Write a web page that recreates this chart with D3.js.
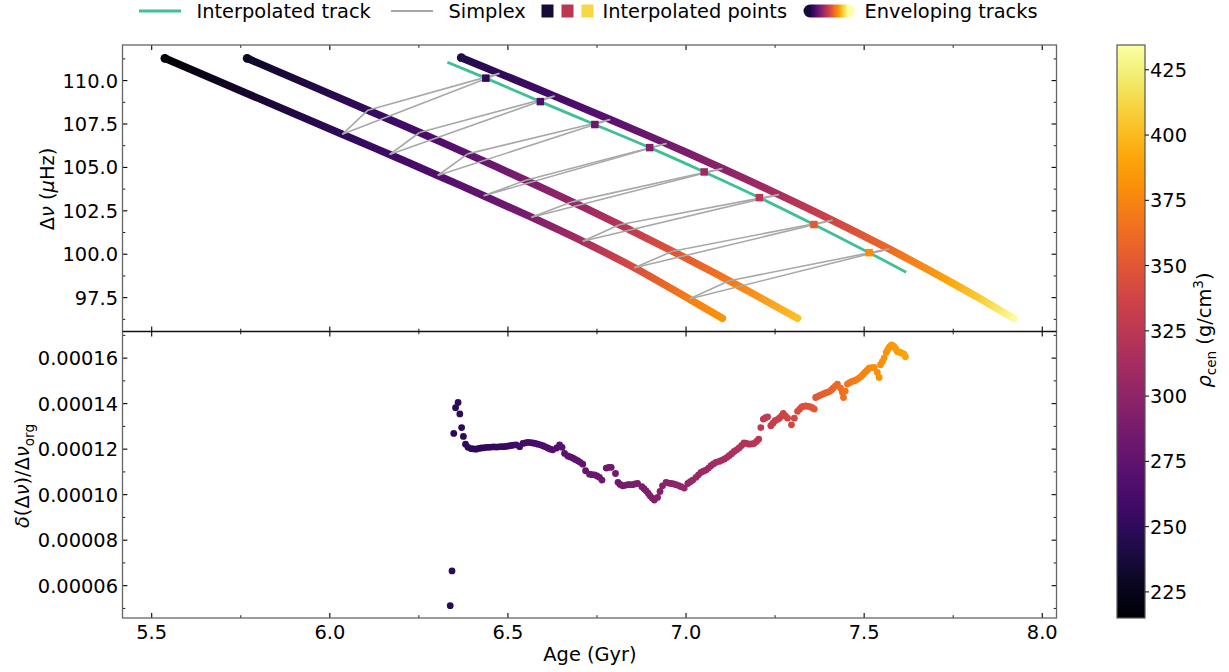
<!DOCTYPE html>
<html><head><meta charset="utf-8">
<script src="https://cdn.jsdelivr.net/npm/d3@7"></script>
<style>
body{margin:0;background:#fff;}
text{font-family:"DejaVu Sans",sans-serif;fill:#000;}
</style></head>
<body><svg id="c" width="1229" height="672"></svg>
<script>
// ---------------- DATA ----------------
// Enveloping track 1
const track1Age = [5.537, 6.035, 6.168, 6.303, 6.432, 6.566, 6.710, 6.855, 7.009, 7.102];
const track1Dnu = [111.284, 106.907, 105.744, 104.535, 103.371, 102.133, 100.745, 99.219, 97.422, 96.311];
const track1Rho = [216, 250, 258, 267, 276, 290, 313, 343, 372, 383];
// Enveloping track 2
const track2Age = [5.768, 6.107, 6.252, 6.387, 6.550, 6.680, 6.813, 6.962, 7.121, 7.313];
const track2Dnu = [111.284, 108.295, 107.011, 105.779, 104.261, 103.017, 101.703, 100.171, 98.470, 96.311];
const track2Rho = [230, 252, 262, 274, 291, 304, 322, 348, 370, 402];
// Enveloping track 3
const track3Age = [6.369, 6.476, 6.631, 6.787, 6.945, 7.102, 7.261, 7.411, 7.570, 7.738, 7.830, 7.920];
const track3Dnu = [111.319, 110.415, 109.107, 107.760, 106.372, 104.938, 103.435, 101.955, 100.307, 98.453, 97.388, 96.311];
const track3Rho = [243, 250, 261, 272, 285, 298, 315, 337, 361, 391, 409, 432];
// Interpolated track
const interpTrackAge = [6.330, 6.438, 6.591, 6.744, 6.898, 7.051, 7.206, 7.359, 7.514, 7.618];
const interpTrackDnu = [111.06, 110.14, 108.79, 107.47, 106.14, 104.74, 103.26, 101.71, 100.09, 98.96];
// Interpolated points
const pointAge = [6.438, 6.591, 6.744, 6.898, 7.051, 7.206, 7.359, 7.514];
const pointDnu = [110.14, 108.79, 107.47, 106.14, 104.74, 103.26, 101.71, 100.09];
const pointRho = [250, 265, 282, 293, 309, 324, 352, 380];
// Simplex vertices (one on each enveloping track)
const simplexAgeA = [6.035, 6.168, 6.303, 6.432, 6.566, 6.710, 6.855, 7.009];
const simplexDnuA = [106.907, 105.744, 104.535, 103.371, 102.133, 100.745, 99.219, 97.422];
const simplexAgeB = [6.107, 6.252, 6.387, 6.550, 6.680, 6.813, 6.962, 7.121];
const simplexDnuB = [108.295, 107.011, 105.779, 104.261, 103.017, 101.703, 100.171, 98.470];
const simplexAgeC = [6.476, 6.631, 6.787, 6.945, 7.102, 7.261, 7.411, 7.570];
const simplexDnuC = [110.415, 109.107, 107.760, 106.372, 104.938, 103.435, 101.955, 100.307];
// Lower panel: relative difference (units of 1e-5)
const diffAge = [6.338,6.343,6.348,6.353,6.360,6.365,6.370,6.375,6.381,6.388,6.397,6.404,6.411,6.418,6.425,6.432,6.439,6.446,6.453,6.460,6.467,6.474,6.481,6.488,6.495,6.502,6.509,6.516,6.523,
6.533,6.542,6.549,6.556,6.563,6.570,6.577,6.584,6.591,6.598,6.605,6.612,6.619,6.626,6.637,6.645,6.652,6.659,6.668,6.675,6.682,6.689,6.696,6.703,6.710,6.718,6.729,6.736,6.743,6.750,6.757,
6.764,6.776,6.783,6.790,6.802,6.809,6.815,6.822,6.829,6.836,6.843,6.850,6.857,6.864,6.876,6.882,6.888,6.894,6.899,6.905,6.911,6.920,6.927,6.934,6.944,6.951,6.958,6.965,6.972,6.979,6.986,
6.995,7.005,7.012,7.019,7.028,7.035,7.042,7.049,7.056,7.063,7.070,7.077,7.084,7.093,7.100,7.107,7.114,7.121,7.128,7.135,7.142,7.149,7.156,7.163,7.170,7.177,7.184,7.191,7.198,7.204,7.210,7.217,7.223,7.229,
7.238,7.244,7.250,7.256,7.262,7.268,7.273,7.279,7.285,7.296,7.304,7.313,7.319,7.325,7.330,7.336,7.343,7.350,7.355,7.360,7.364,7.369,7.374,7.381,7.388,7.395,7.402,7.408,7.413,7.419,7.425,7.434,7.439,
7.442,7.447,7.453,7.459,7.465,7.471,7.476,7.483,7.490,7.496,7.502,7.508,7.514,7.521,7.528,7.537,7.542,7.546,7.551,7.556,7.562,7.566,7.570,7.574,7.577,7.581,7.584,7.589,7.593,7.598,7.602,7.607,7.612,7.616];
const diffRel = [5.12,6.65,12.69,13.82,14.05,13.55,12.95,12.56,12.22,12.08,12.02,12.01,12.00,12.03,12.05,12.06,12.08,12.08,12.09,12.10,12.09,12.10,12.11,12.11,12.12,12.14,12.16,12.18,12.19,
12.11,12.25,12.28,12.30,12.29,12.27,12.25,12.22,12.19,12.15,12.10,12.05,12.00,11.97,12.05,12.19,12.08,11.81,11.70,11.66,11.61,11.55,11.49,11.42,11.34,11.05,10.90,10.88,10.87,10.82,10.76,
10.64,11.17,11.20,11.20,10.93,10.54,10.45,10.39,10.41,10.44,10.44,10.44,10.47,10.49,10.35,10.26,10.17,10.06,9.95,9.85,9.76,9.88,10.14,10.39,10.54,10.51,10.49,10.47,10.44,10.40,10.35,
10.29,10.49,10.57,10.64,10.76,10.87,10.98,11.03,11.08,11.17,11.27,11.35,11.42,11.46,11.51,11.56,11.63,11.71,11.80,11.90,11.97,12.05,12.16,12.27,12.25,12.22,12.23,12.25,12.34,12.44,12.95,13.32,13.38,13.42,
13.03,13.14,13.25,13.30,13.36,13.46,13.57,13.46,13.36,13.07,13.36,13.66,13.76,13.86,13.88,13.90,13.88,13.86,13.81,13.76,14.27,14.31,14.35,14.40,14.45,14.49,14.53,14.60,14.68,14.77,14.86,14.68,14.49,
14.27,14.55,14.86,14.92,14.97,15.00,15.03,15.10,15.18,15.27,15.37,15.46,15.56,15.58,15.59,15.37,15.15,15.71,15.85,16.00,16.25,16.36,16.47,16.53,16.58,16.54,16.50,16.40,16.29,16.27,16.25,16.21,16.17,16.06];
const diffRho = [248,248,248,248,249,249,249,249,249,249,250,250,250,250,250,250,251,251,252,252,253,254,255,255,256,256,257,257,258,
259,260,260,261,261,262,262,263,264,265,265,266,267,268,269,270,271,271,272,273,274,274,275,276,277,278,279,279,280,280,281,
282,283,283,284,285,286,286,287,287,288,288,289,289,290,291,291,292,292,293,293,294,295,295,296,297,298,299,299,300,301,302,
303,304,304,305,306,306,307,308,309,309,310,311,312,313,313,314,315,316,316,317,318,319,319,320,321,322,322,323,324,325,326,327,328,329,
330,331,332,333,334,335,336,337,338,340,341,343,344,345,345,346,347,348,349,350,351,351,352,353,355,356,357,358,359,360,361,363,364,
365,366,367,368,369,370,371,372,373,374,375,376,377,378,379,380,381,381,381,382,383,383,384,384,385,385,386,386,387,387,388,388,389,390];
// Ticks
const xTicks = [5.5, 6.0, 6.5, 7.0, 7.5, 8.0];
const xTickLabels = ["5.5", "6.0", "6.5", "7.0", "7.5", "8.0"];
const xMinor = [5.75, 6.25, 6.75, 7.25, 7.75];
const topYTicks = [97.5, 100, 102.5, 105, 107.5, 110];
const topYTickLabels = ["97.5", "100.0", "102.5", "105.0", "107.5", "110.0"];
const topYMinor = [96.25, 98.75, 101.25, 103.75, 106.25, 108.75, 111.25];
const botYTicks = [6, 8, 10, 12, 14, 16];
const botYTickLabels = ["0.00006", "0.00008", "0.00010", "0.00012", "0.00014", "0.00016"];
const botYMinor = [5, 7, 9, 11, 13, 15, 17];
const cbarTicks = [225, 250, 275, 300, 325, 350, 375, 400, 425];
const cbarTickLabels = ["225", "250", "275", "300", "325", "350", "375", "400", "425"];
const legendLabels = ["Interpolated track", "Simplex", "Interpolated points", "Enveloping tracks"];

// ---------------- LAYOUT ----------------
const L = 122.5, R = 1056.5, T1 = 45, B1 = 331.5, T2 = 331.5, B2 = 618;
const CB = {x0: 1117, x1: 1145, y0: 45, y1: 618};
const FS = 19.4;
const GREEN = "#3fbf97", GRAY = "#a8a8a8", SPINE = "#666";

const x = d3.scaleLinear().domain([5.418, 8.04]).range([L, R]);
const yTop = d3.scaleLinear().domain([95.55, 112.05]).range([B1, T1]);
const yBot = d3.scaleLinear().domain([4.58, 17.17]).range([B2, T2]);
const color = d3.scaleSequential(d3.interpolateInferno).domain([215, 434.5]);
const yCb = d3.scaleLinear().domain([215, 434.5]).range([CB.y1, CB.y0]);

const svg = d3.select("#c");
const defs = svg.append("defs");
defs.append("clipPath").attr("id", "clipTop").append("rect").attr("x", L).attr("y", T1).attr("width", R - L).attr("height", B1 - T1);
defs.append("clipPath").attr("id", "clipBot").append("rect").attr("x", L).attr("y", T2).attr("width", R - L).attr("height", B2 - T2);

const gTop = svg.append("g").attr("clip-path", "url(#clipTop)");
const gBot = svg.append("g").attr("clip-path", "url(#clipBot)");
const smooth = d3.line().curve(d3.curveCatmullRom.alpha(0.5));

// ---- enveloping tracks
function addTrack(ages, dnus, rhos, id) {
  const pts = ages.map((a, i) => [x(a), yTop(dnus[i])]);
  const p0 = pts[0], p1 = pts[pts.length - 1];
  const dx = p1[0] - p0[0], dy = p1[1] - p0[1], len2 = dx * dx + dy * dy;
  const g = defs.append("linearGradient").attr("id", id).attr("gradientUnits", "userSpaceOnUse")
    .attr("x1", p0[0]).attr("y1", p0[1]).attr("x2", p1[0]).attr("y2", p1[1]);
  pts.forEach((p, i) => {
    const t = ((p[0] - p0[0]) * dx + (p[1] - p0[1]) * dy) / len2;
    g.append("stop").attr("offset", Math.max(0, Math.min(1, t))).attr("stop-color", color(rhos[i]));
  });
  gTop.append("path").attr("d", smooth(pts))
    .attr("fill", "none").attr("stroke", `url(#${id})`).attr("stroke-width", 7.5)
    .attr("stroke-linecap", "round");
  gTop.append("circle").attr("cx", p0[0]).attr("cy", p0[1]).attr("r", 4.4).attr("fill", color(rhos[0]));
}
addTrack(track1Age, track1Dnu, track1Rho, "g1");
addTrack(track2Age, track2Dnu, track2Rho, "g2");
addTrack(track3Age, track3Dnu, track3Rho, "g3");

// ---- interpolated track
gTop.append("path")
  .attr("d", smooth(interpTrackAge.map((a, i) => [x(a), yTop(interpTrackDnu[i])])))
  .attr("fill", "none").attr("stroke", GREEN).attr("stroke-width", 2.8);

// ---- simplexes
pointAge.forEach((_, i) => {
  const A = [x(simplexAgeA[i]), yTop(simplexDnuA[i])];
  const B = [x(simplexAgeB[i]), yTop(simplexDnuB[i])];
  const C = [x(simplexAgeC[i]), yTop(simplexDnuC[i])];
  [[A, B], [B, C], [A, C]].forEach(([p, q]) => {
    gTop.append("line").attr("x1", p[0]).attr("y1", p[1]).attr("x2", q[0]).attr("y2", q[1])
      .attr("stroke", GRAY).attr("stroke-width", 1.6);
  });
});

// ---- interpolated points
const sq = 7.5;
gTop.selectAll("rect.pt").data(pointAge).enter().append("rect")
  .attr("x", (d) => x(d) - sq / 2).attr("y", (d, i) => yTop(pointDnu[i]) - sq / 2)
  .attr("width", sq).attr("height", sq).attr("fill", (d, i) => color(pointRho[i]));

// ---- lower panel scatter
gBot.selectAll("circle").data(diffAge).enter().append("circle")
  .attr("cx", (d) => x(d)).attr("cy", (d, i) => yBot(diffRel[i])).attr("r", 3.4)
  .attr("fill", (d, i) => color(diffRho[i]));

// ---------------- AXES ----------------
const ax = svg.append("g");
function tickLine(x1, y1, x2, y2, w) {
  ax.append("line").attr("x1", x1).attr("y1", y1).attr("x2", x2).attr("y2", y2)
    .attr("stroke", "#000").attr("stroke-width", w);
}
const MAJ = 4.9, MIN = 2.8;
function panelTicks(yScale, yT, yB, yMaj, yMin) {
  xTicks.forEach(v => { tickLine(x(v), yB, x(v), yB - MAJ, 1.1); tickLine(x(v), yT, x(v), yT + MAJ, 1.1); });
  xMinor.forEach(v => { tickLine(x(v), yB, x(v), yB - MIN, 0.9); tickLine(x(v), yT, x(v), yT + MIN, 0.9); });
  yMaj.forEach(v => { tickLine(L, yScale(v), L + MAJ, yScale(v), 1.1); tickLine(R, yScale(v), R - MAJ, yScale(v), 1.1); });
  yMin.forEach(v => { tickLine(L, yScale(v), L + MIN, yScale(v), 0.9); tickLine(R, yScale(v), R - MIN, yScale(v), 0.9); });
}
panelTicks(yTop, T1, B1, topYTicks, topYMinor);
panelTicks(yBot, T2, B2, botYTicks, botYMinor);

// spines
ax.append("rect").attr("x", L).attr("y", T1).attr("width", R - L).attr("height", B2 - T1)
  .attr("fill", "none").attr("stroke", SPINE).attr("stroke-width", 1.3);
ax.append("line").attr("x1", L).attr("x2", R).attr("y1", B1).attr("y2", B1).attr("stroke", "#111").attr("stroke-width", 1.4);

// tick labels
topYTicks.forEach((v, i) => ax.append("text").attr("x", 118).attr("y", yTop(v)).attr("dy", "0.36em")
  .attr("text-anchor", "end").style("font-size", FS + "px").text(topYTickLabels[i]));
botYTicks.forEach((v, i) => ax.append("text").attr("x", 118).attr("y", yBot(v)).attr("dy", "0.36em")
  .attr("text-anchor", "end").style("font-size", FS + "px").text(botYTickLabels[i]));
xTicks.forEach((v, i) => ax.append("text").attr("x", x(v)).attr("y", 638.5)
  .attr("text-anchor", "middle").style("font-size", FS + "px").text(xTickLabels[i]));

// axis labels
const lab1 = ax.append("text").attr("transform", "translate(54,189) rotate(-90)")
  .attr("text-anchor", "middle").style("font-size", FS + "px");
lab1.append("tspan").text("Δ");
lab1.append("tspan").style("font-style", "italic").text("ν");
lab1.append("tspan").text(" (");
lab1.append("tspan").style("font-style", "italic").text("μ");
lab1.append("tspan").text("Hz)");

const lab2 = ax.append("text").attr("transform", "translate(29,476) rotate(-90)")
  .attr("text-anchor", "middle").style("font-size", FS + "px");
lab2.append("tspan").style("font-style", "italic").text("δ");
lab2.append("tspan").text("(Δ");
lab2.append("tspan").style("font-style", "italic").text("ν");
lab2.append("tspan").text(")/Δ");
lab2.append("tspan").style("font-style", "italic").text("ν");
lab2.append("tspan").attr("dy", 4.5).style("font-size", (FS * 0.7) + "px").text("org");

ax.append("text").attr("x", 590).attr("y", 661).attr("text-anchor", "middle")
  .style("font-size", FS + "px").text("Age (Gyr)");

// ---------------- COLORBAR ----------------
const cg = defs.append("linearGradient").attr("id", "cbar").attr("x1", 0).attr("y1", 1).attr("x2", 0).attr("y2", 0);
d3.range(0, 1.0001, 0.05).forEach(t => cg.append("stop").attr("offset", t).attr("stop-color", d3.interpolateInferno(t)));
svg.append("rect").attr("x", CB.x0).attr("y", CB.y0).attr("width", CB.x1 - CB.x0).attr("height", CB.y1 - CB.y0)
  .attr("fill", "url(#cbar)").attr("stroke", "#555").attr("stroke-width", 1.2);
cbarTicks.forEach((v, i) => {
  svg.append("line").attr("x1", CB.x1).attr("x2", CB.x1 + 4).attr("y1", yCb(v)).attr("y2", yCb(v))
    .attr("stroke", "#000").attr("stroke-width", 1);
  svg.append("text").attr("x", 1150).attr("y", yCb(v)).attr("dy", "0.36em")
    .style("font-size", FS + "px").text(cbarTickLabels[i]);
});
const lab3 = svg.append("text").attr("transform", "translate(1211,330) rotate(-90)")
  .attr("text-anchor", "middle").style("font-size", FS + "px");
lab3.append("tspan").style("font-style", "italic").text("ρ");
lab3.append("tspan").attr("dy", 4.5).style("font-size", (FS * 0.7) + "px").text("cen");
lab3.append("tspan").attr("dy", -4.5).text(" (g/cm");
lab3.append("tspan").attr("dy", -8).style("font-size", (FS * 0.7) + "px").text("3");
lab3.append("tspan").attr("dy", 8).text(")");

// ---------------- LEGEND ----------------
const lg = svg.append("g");
const ly = 11;
lg.append("line").attr("x1", 139).attr("x2", 181).attr("y1", ly).attr("y2", ly).attr("stroke", GREEN).attr("stroke-width", 3);
lg.append("text").attr("x", 196.5).attr("y", ly + 7).style("font-size", FS + "px").text(legendLabels[0]);
lg.append("line").attr("x1", 391).attr("x2", 433).attr("y1", ly).attr("y2", ly).attr("stroke", GRAY).attr("stroke-width", 1.8);
lg.append("text").attr("x", 448.5).attr("y", ly + 7).style("font-size", FS + "px").text(legendLabels[1]);
[0.1, 0.5, 0.9].forEach((t, i) => lg.append("rect").attr("x", 541.5 + i * 20).attr("y", ly - 6.5)
  .attr("width", 12).attr("height", 13).attr("fill", d3.interpolateInferno(t)));
lg.append("text").attr("x", 602.5).attr("y", ly + 7).style("font-size", FS + "px").text(legendLabels[2]);
const pg = defs.append("linearGradient").attr("id", "pill").attr("gradientUnits", "userSpaceOnUse")
  .attr("x1", 810).attr("x2", 848).attr("y1", 0).attr("y2", 0);
d3.range(0.1, 1.0001, 0.05).forEach(t => pg.append("stop").attr("offset", (t - 0.1) / 0.9).attr("stop-color", d3.interpolateInferno(t)));
lg.append("line").attr("x1", 810).attr("x2", 848).attr("y1", ly).attr("y2", ly)
  .attr("stroke", "url(#pill)").attr("stroke-width", 13).attr("stroke-linecap", "round");
lg.append("text").attr("x", 864.5).attr("y", ly + 7).style("font-size", FS + "px").text(legendLabels[3]);
</script>
</body></html>
